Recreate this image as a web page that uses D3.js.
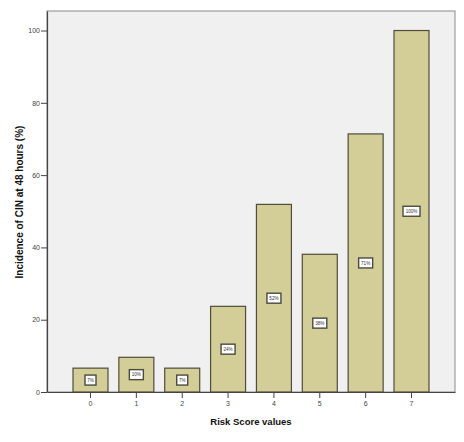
<!DOCTYPE html>
<html>
<head>
<meta charset="utf-8">
<script src="https://cdn.jsdelivr.net/npm/d3@7"></script>
<style>
  body { margin: 0; background: #fff; }
  text { font-family: "Liberation Sans", Arial, sans-serif; }
</style>
</head>
<body>
<script>
var width = 464,
    height = 442,
    margin = {top: 11, right: 9, bottom: 50, left: 47};

// data
var scores = ['0', '1', '2', '3', '4', '5', '6', '7'];
var incidence = [6.6, 9.6, 6.6, 23.7, 51.9, 38.1, 71.4, 100];
var pctLabels = ['7%', '10%', '7%', '24%', '52%', '38%', '71%', '100%'];
var yTicks = [0, 20, 40, 60, 80, 100];

var bars = scores.map(function(s, i) {
    return {score: s, value: incidence[i], label: pctLabels[i]};
});

var svg = d3.select('body')
    .append('svg')
    .attr('width', width)
    .attr('height', height);

var x = d3.scaleBand()
    .domain(scores)
    .range([margin.left, width - margin.right])
    .paddingInner(0.237)
    .paddingOuter(0.567);

var y = d3.scaleLinear()
    .domain([0, 105.4])
    .range([height - margin.bottom, margin.top]);

// plot background + frame
svg.append('rect')
    .attr('x', margin.left)
    .attr('y', margin.top)
    .attr('width', width - margin.left - margin.right)
    .attr('height', height - margin.top - margin.bottom)
    .attr('fill', '#f0f0f0')
    .attr('stroke', '#8a8a8a')
    .attr('stroke-width', 1);

// bars
svg.selectAll('rect.bar')
    .data(bars)
    .enter()
    .append('rect')
    .attr('class', 'bar')
    .attr('x', function(d) { return x(d.score); })
    .attr('y', function(d) { return y(d.value); })
    .attr('width', x.bandwidth())
    .attr('height', function(d) { return y(0) - y(d.value); })
    .attr('fill', '#d3ce97')
    .attr('stroke', '#4f4c3c')
    .attr('stroke-width', 1.2);

// value labels in white boxes at bar middle
var boxW = function(d) { return d.label.length * 3 + 5; };

var lab = svg.selectAll('g.lab')
    .data(bars)
    .enter()
    .append('g')
    .attr('class', 'lab')
    .attr('transform', function(d) {
        return 'translate(' + (x(d.score) + x.bandwidth() / 2) + ',' + y(d.value / 2) + ')';
    });

lab.append('rect')
    .attr('x', function(d) { return -boxW(d) / 2; })
    .attr('y', -5)
    .attr('width', boxW)
    .attr('height', 10)
    .attr('fill', '#fff')
    .attr('stroke', '#4a4a40')
    .attr('stroke-width', 1.4);

lab.append('text')
    .attr('text-anchor', 'middle')
    .attr('dy', '0.35em')
    .attr('font-size', 4.6)
    .attr('fill', '#333')
    .text(function(d) { return d.label; });

// axes
var yAxis = svg.append('g')
    .attr('transform', 'translate(' + margin.left + ',0)')
    .call(d3.axisLeft(y).tickValues(yTicks).tickSizeInner(6).tickSizeOuter(0).tickPadding(1));

var xAxis = svg.append('g')
    .attr('transform', 'translate(0,' + (height - margin.bottom) + ')')
    .call(d3.axisBottom(x).tickSizeInner(6).tickSizeOuter(0).tickPadding(3));

[yAxis, xAxis].forEach(function(a) {
    a.select('.domain').attr('stroke', '#444').attr('stroke-width', 1.2);
    a.selectAll('.tick line').attr('stroke', '#444');
    a.selectAll('.tick text')
        .attr('font-size', 7)
        .attr('fill', '#444')
        .style('font-family', '"Liberation Sans", Arial, sans-serif');
});

// axis titles
svg.append('text')
    .attr('transform', 'translate(23,' + 202 + ') rotate(-90)')
    .attr('text-anchor', 'middle')
    .attr('font-size', 10)
    .attr('font-weight', 'bold')
    .attr('fill', '#111')
    .text('Incidence of CIN at 48 hours (%)');

svg.append('text')
    .attr('x', 251)
    .attr('y', 425)
    .attr('text-anchor', 'middle')
    .attr('font-size', 9.5)
    .attr('font-weight', 'bold')
    .attr('fill', '#111')
    .text('Risk Score values');
</script>
</body>
</html>
